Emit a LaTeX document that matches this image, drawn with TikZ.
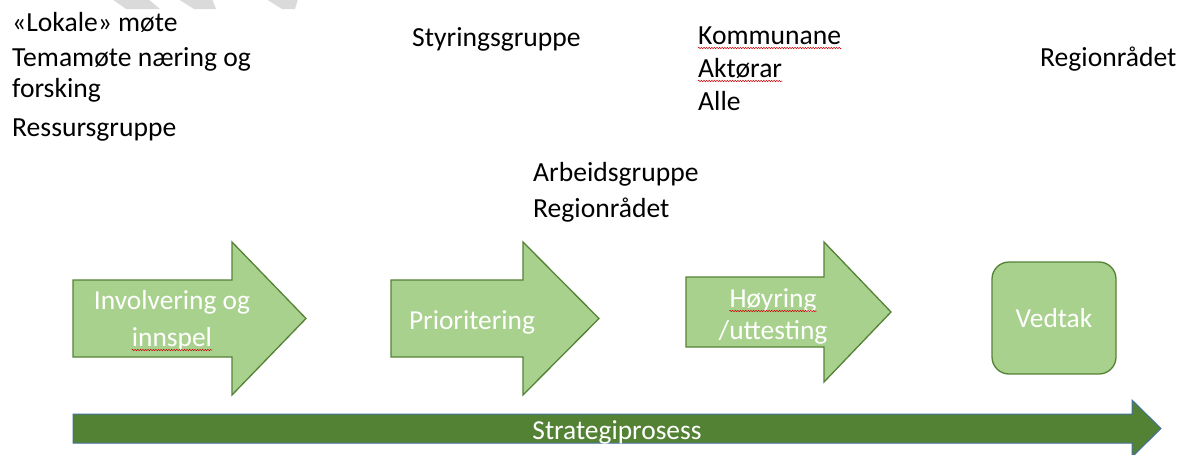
\documentclass[tikz,border=0pt]{standalone}
\usepackage{fontspec}
\setmainfont{Carlito}
\usetikzlibrary{decorations.pathmorphing}
\definecolor{lightgreen}{HTML}{A9D18E}
\definecolor{edgegreen}{HTML}{548235}
\definecolor{darkgreen}{HTML}{548235}
\definecolor{baredge}{HTML}{41719C}
\definecolor{stripegray}{HTML}{DADADA}
\tikzset{
  lbl/.style={inner sep=0pt, anchor=base west, font=\fontsize{27.6}{32}\selectfont, text=black},
  wlbl/.style={inner sep=0pt, anchor=base, font=\fontsize{27.4}{32}\selectfont, text=white},
  stepshape/.style={fill=lightgreen, draw=edgegreen, line width=1.3pt, line join=miter},
  barshape/.style={fill=darkgreen, draw=baredge, line width=1pt},
  squiggle/.style={draw=red!80!black, line width=0.5pt, decorate, decoration={snake, amplitude=0.7pt, segment length=2.6pt}}
}
\begin{document}
\begin{tikzpicture}[x=1pt,y=-1pt]
\useasboundingbox (0,0) rectangle (1186,455);
% faint stripes at top
\fill[stripegray] (112,-1) -- (148,-1) -- (160,9) -- (126,9) -- cycle;
\fill[stripegray] (178,-1) -- (212,-1) -- (216,9) -- (194,9) -- cycle;
\fill[stripegray] (266,-1) -- (298,-1) -- (295,9) -- (282,9) -- cycle;

% step arrows
\draw[stepshape] (73,280) -- (232,280) -- (232,242) -- (306,318.5) -- (232,395) -- (232,357) -- (73,357) -- cycle;
\draw[stepshape] (391,280) -- (523,280) -- (523,242) -- (599,318.5) -- (523,395) -- (523,357) -- (391,357) -- cycle;
\draw[stepshape] (686,277) -- (824,277) -- (824,242) -- (891,312) -- (824,382) -- (824,347) -- (686,347) -- cycle;
\draw[stepshape, rounded corners=17pt] (992,262) rectangle (1116,374);

% process bar
\draw[barshape] (73,414) -- (1132,414) -- (1132,400) -- (1161,428.5) -- (1132,457) -- (1132,443) -- (73,443) -- cycle;

% texts in shapes
\node[wlbl] (inv1) at (172,309) {Involvering og};
\node[wlbl] (inv2) at (172,346) {innspel};
\node[wlbl] (prio) at (472,329) {Prioritering};
\node[wlbl] (hoy1) at (773,307) {Høyring};
\node[wlbl] (hoy2) at (773,339) {/uttesting};
\node[wlbl] (ved) at (1054,327) {Vedtak};
\node[wlbl] (strat) at (617,439) {Strategiprosess};

% texts above
\node[lbl] (t1) at (12,31) {«Lokale» møte};
\node[lbl] (t2) at (12,66) {Temamøte næring og};
\node[lbl] (t3) at (12,97) {forsking};
\node[lbl] (t4) at (12,136) {Ressursgruppe};
\node[lbl] (sty) at (412,46) {Styringsgruppe};
\node[lbl] (kom) at (698,44) {Kommunane};
\node[lbl] (akt) at (698,77) {Aktørar};
\node[lbl] (alle) at (698,110) {Alle};
\node[lbl] (reg1) at (1040,66) {Regionrådet};
\node[lbl] (arb) at (533,181) {Arbeidsgruppe};
\node[lbl] (reg2) at (533,217) {Regionrådet};

% spell-check underlines
\draw[squiggle] ([yshift=-4pt]kom.base west) -- ([yshift=-4pt]kom.base east);
\draw[squiggle] ([yshift=-4pt]akt.base west) -- ([yshift=-4pt]akt.base east);
\draw[squiggle] ([yshift=-4pt]inv2.base west) -- ([yshift=-4pt]inv2.base east);
\draw[squiggle] ([yshift=-4pt]hoy1.base west) -- ([yshift=-4pt]hoy1.base east);
\end{tikzpicture}
\end{document}
